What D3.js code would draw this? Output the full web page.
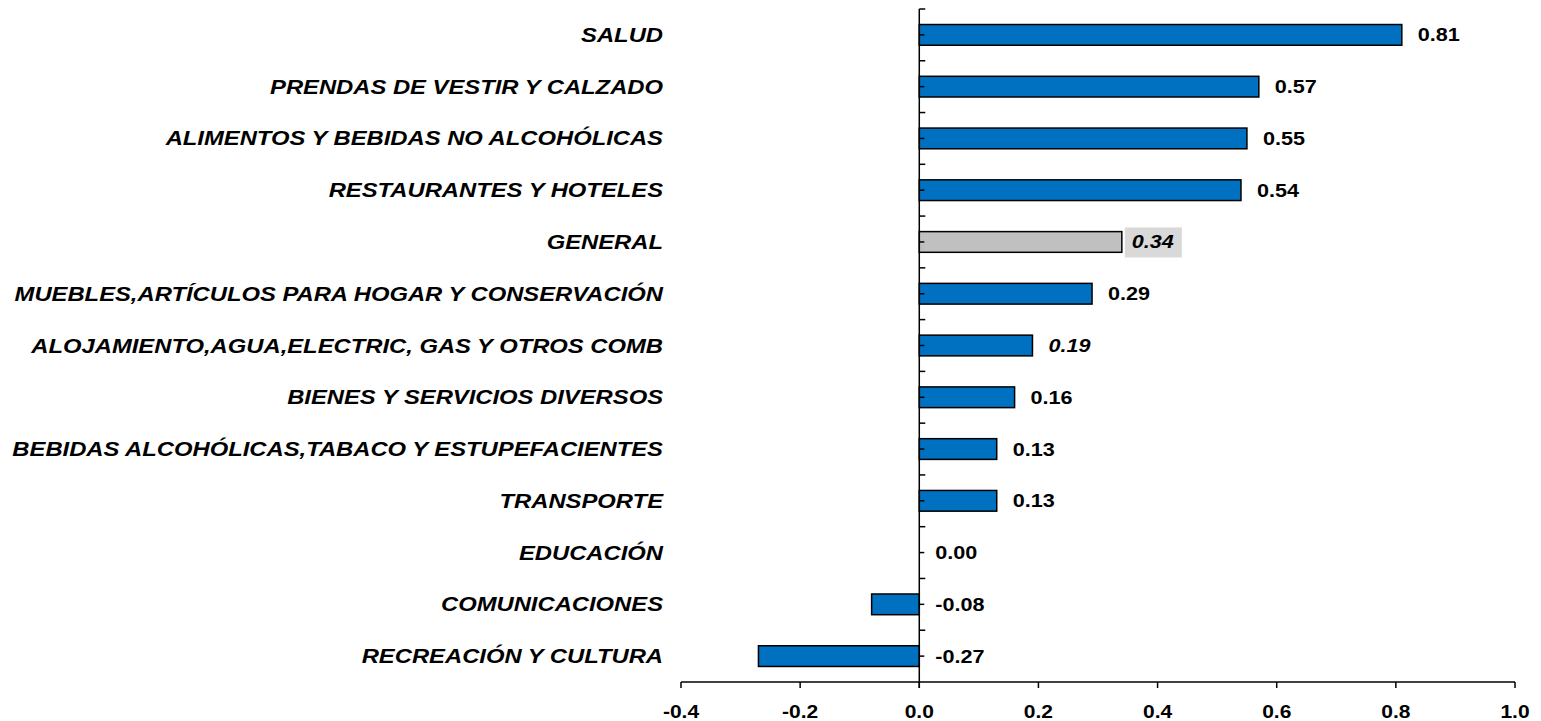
<!DOCTYPE html>
<html>
<head>
<meta charset="utf-8">
<script src="https://cdn.jsdelivr.net/npm/d3@7"></script>
<style>
  body { margin: 0; background: #fff; }
  svg text { font-family: "Liberation Sans", Arial, sans-serif; font-weight: bold; fill: #000; }
</style>
</head>
<body>
<div id="chart"></div>
<script>
// categories top to bottom
var categories = [
    "SALUD",
    "PRENDAS DE VESTIR Y CALZADO",
    "ALIMENTOS Y BEBIDAS NO ALCOHÓLICAS",
    "RESTAURANTES Y HOTELES",
    "GENERAL",
    "MUEBLES,ARTÍCULOS PARA HOGAR Y CONSERVACIÓN",
    "ALOJAMIENTO,AGUA,ELECTRIC, GAS Y OTROS COMB",
    "BIENES Y SERVICIOS DIVERSOS",
    "BEBIDAS ALCOHÓLICAS,TABACO Y ESTUPEFACIENTES",
    "TRANSPORTE",
    "EDUCACIÓN",
    "COMUNICACIONES",
    "RECREACIÓN Y CULTURA"
];
var values = [0.81, 0.57, 0.55, 0.54, 0.34, 0.29, 0.19, 0.16, 0.13, 0.13, 0.00, -0.08, -0.27];
var valueLabels = ["0.81", "0.57", "0.55", "0.54", "0.34", "0.29", "0.19", "0.16", "0.13", "0.13", "0.00", "-0.08", "-0.27"];
var xTicks = [-0.4, -0.2, 0.0, 0.2, 0.4, 0.6, 0.8, 1.0];
var italicLabels = ["GENERAL", "ALOJAMIENTO,AGUA,ELECTRIC, GAS Y OTROS COMB"];
var highlight = "GENERAL";

var w = 1541, h = 721;
var blue = "#0070c0", grey = "#c0c0c0";

var svg = d3.select("#chart").append("svg")
    .attr("width", w)
    .attr("height", h);

var x = d3.scaleLinear().domain([-0.4, 1.0]).range([681, 1515]);
var y = d3.scaleBand().domain(categories).range([9, 682])
    .paddingInner(0.6).paddingOuter(0.3);

var data = categories.map(function (c, i) {
    return {name: c, value: values[i], label: valueLabels[i]};
});

// bars
svg.append("g").selectAll("rect")
    .data(data)
    .enter().append("rect")
    .attr("x", function (d) { return Math.min(x(0), x(d.value)); })
    .attr("y", function (d) { return y(d.name); })
    .attr("width", function (d) { return Math.abs(x(d.value) - x(0)); })
    .attr("height", y.bandwidth())
    .attr("fill", function (d) { return d.name == highlight ? grey : blue; })
    .attr("stroke", "#000")
    .attr("stroke-width", function (d) { return d.value == 0 ? 0 : 1.5; });

// vertical axis at zero
var ax = svg.append("g").attr("stroke", "#000").attr("stroke-width", 1.5);
ax.append("line")
    .attr("x1", x(0)).attr("x2", x(0))
    .attr("y1", 9).attr("y2", 688);
var bounds = d3.range(categories.length).map(function (i) { return 9 + i * y.step(); });
ax.selectAll(".bt").data(bounds).enter().append("line")
    .attr("x1", x(0)).attr("x2", x(0) + 6)
    .attr("y1", function (d) { return d; }).attr("y2", function (d) { return d; });
ax.selectAll(".ct").data(categories).enter().append("line")
    .attr("x1", x(0)).attr("x2", x(0) + 5)
    .attr("y1", function (d) { return y(d) + y.bandwidth() / 2; })
    .attr("y2", function (d) { return y(d) + y.bandwidth() / 2; });

// horizontal axis
ax.append("line")
    .attr("x1", x(-0.4)).attr("x2", x(1.0))
    .attr("y1", 682).attr("y2", 682);
ax.selectAll(".xt").data(xTicks).enter().append("line")
    .attr("x1", function (d) { return x(d); }).attr("x2", function (d) { return x(d); })
    .attr("y1", 682).attr("y2", 688);

svg.append("g").selectAll("text")
    .data(xTicks)
    .enter().append("text")
    .attr("transform", function (d) { return "translate(" + x(d) + ",718) scale(1.2,1)"; })
    .attr("text-anchor", "middle")
    .style("font-size", "17.5px")
    .text(function (d) { return d.toFixed(1); });

// category labels
svg.append("g").selectAll("text")
    .data(categories)
    .enter().append("text")
    .attr("transform", function (d) { return "translate(663," + (y(d) + y.bandwidth() / 2 + 7) + ") scale(1.19,1)"; })
    .attr("text-anchor", "end")
    .style("font-size", "20px")
    .style("font-style", "italic")
    .text(function (d) { return d; });

// value labels
var lab = svg.append("g").selectAll("g")
    .data(data)
    .enter().append("g")
    .attr("transform", function (d) {
        var gap = d.name == highlight ? 10 : 16;
        var lx = d.value > 0 ? x(d.value) + gap : x(0) + 16;
        return "translate(" + lx + "," + (y(d.name) + y.bandwidth() / 2 + 6.5) + ")";
    });

lab.filter(function (d) { return d.name == highlight; })
    .append("rect")
    .attr("x", -7).attr("y", -21)
    .attr("width", 57).attr("height", 30)
    .attr("fill", "#d9d9d9");

lab.append("text")
    .attr("transform", "scale(1.2,1)")
    .style("font-size", "18px")
    .style("font-style", function (d) { return italicLabels.indexOf(d.name) >= 0 ? "italic" : "normal"; })
    .text(function (d) { return d.label; });
</script>
</body>
</html>
